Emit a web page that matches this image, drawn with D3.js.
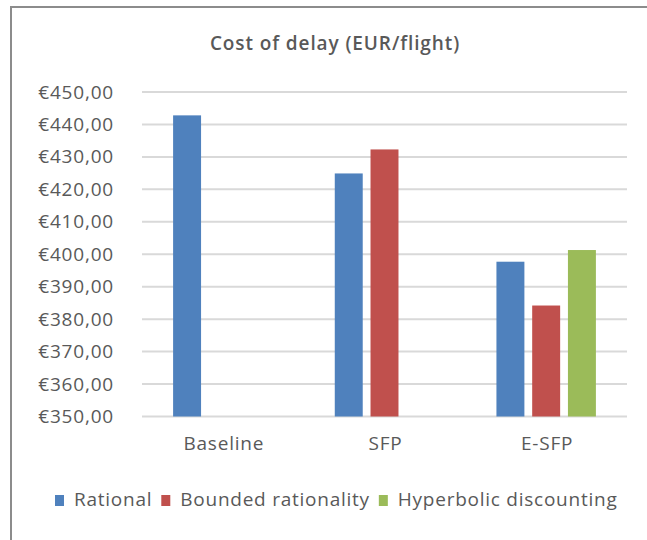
<!DOCTYPE html>
<html>
<head>
<meta charset="utf-8">
<script src="https://cdn.jsdelivr.net/npm/d3@7"></script>
<style>
  body { margin: 0; background: #fff; }
  svg { display: block; }
</style>
</head>
<body>
<div id="chart"></div>
<script>
var categories = ["Baseline", "SFP", "E-SFP"];
var seriesNames = ["Rational", "Bounded rationality", "Hyperbolic discounting"];
var seriesColors = ["#4F81BD", "#C0504D", "#9BBB59"];
// values per series, one entry per category (null = no bar)
var rational = [442.8, 424.9, 397.7];
var bounded = [null, 432.3, 384.2];
var hyperbolic = [null, null, 401.3];
var yTicks = [350, 360, 370, 380, 390, 400, 410, 420, 430, 440, 450];

var width = 647, height = 540;
var font = "'Open Sans', sans-serif";
var textColor = "#595959";

var svg = d3.select("#chart").append("svg")
    .attr("width", width)
    .attr("height", height);

// chart frame (cropped: only top and left edges visible)
svg.append("line")
    .attr("x1", 10).attr("y1", 7).attr("x2", width).attr("y2", 7)
    .attr("stroke", "#8c8c8c").attr("stroke-width", 2);
svg.append("line")
    .attr("x1", 11).attr("y1", 6).attr("x2", 11).attr("y2", height)
    .attr("stroke", "#8c8c8c").attr("stroke-width", 2);

var locale = d3.formatLocale({
    decimal: ",",
    thousands: ".",
    grouping: [3],
    currency: ["€", ""]
});
var fmt = locale.format("$.2f");

var plot = { left: 142, right: 627, top: 92, bottom: 416.5 };

var y = d3.scaleLinear()
    .domain([350, 450])
    .range([plot.bottom, plot.top]);

var x0 = d3.scaleBand()
    .domain(categories)
    .range([plot.left, plot.right]);

var x1 = d3.scaleBand()
    .domain(seriesNames)
    .range([0, x0.bandwidth()])
    .paddingInner(0.218)
    .paddingOuter(0.87);

// gridlines
svg.append("g")
    .selectAll("line")
    .data(yTicks)
    .enter()
    .append("line")
    .attr("x1", plot.left)
    .attr("x2", plot.right)
    .attr("y1", function(d) { return y(d); })
    .attr("y2", function(d) { return y(d); })
    .attr("stroke", "#d9d9d9")
    .attr("stroke-width", 2);

// y axis labels
var yAxis = d3.axisLeft(y)
    .tickValues(yTicks)
    .tickFormat(fmt)
    .tickSize(0)
    .tickPadding(0);

svg.append("g")
    .attr("transform", "translate(114,0)")
    .call(yAxis)
    .call(function(g) { g.select(".domain").remove(); })
    .selectAll("text")
    .attr("fill", textColor)
    .style("font", "19px " + font)
    .style("letter-spacing", "0.8px");

// bars
var table = [rational, bounded, hyperbolic];
var barData = [];
categories.forEach(function(c, i) {
    seriesNames.forEach(function(s, j) {
        if (table[j][i] != null) {
            barData.push({ cat: c, series: s, idx: j, value: table[j][i] });
        }
    });
});

svg.append("g")
    .selectAll("rect")
    .data(barData)
    .enter()
    .append("rect")
    .attr("x", function(d) { return x0(d.cat) + x1(d.series); })
    .attr("width", x1.bandwidth())
    .attr("y", function(d) { return y(d.value); })
    .attr("height", function(d) { return y(350) - y(d.value); })
    .attr("fill", function(d) { return seriesColors[d.idx]; });

// category labels
var xAxis = d3.axisBottom(x0).tickSize(0).tickPadding(0);
svg.append("g")
    .attr("transform", "translate(1," + (plot.bottom + 20) + ")")
    .call(xAxis)
    .call(function(g) { g.select(".domain").remove(); })
    .selectAll("text")
    .attr("fill", textColor)
    .style("font", "19px " + font)
    .style("letter-spacing", "0.8px");

// title
svg.append("text")
    .attr("x", 335)
    .attr("y", 50)
    .attr("text-anchor", "middle")
    .attr("fill", textColor)
    .style("font", "600 19px " + font)
    .style("letter-spacing", "0.9px")
    .text("Cost of delay (EUR/flight)");

// legend
var legend = svg.append("g").attr("transform", "translate(0,506)");
var lx = 55;
seriesNames.forEach(function(s, i) {
    legend.append("rect")
        .attr("x", lx)
        .attr("y", -11)
        .attr("width", 9)
        .attr("height", 11)
        .attr("fill", seriesColors[i]);
    var t = legend.append("text")
        .attr("x", lx + 19)
        .attr("y", 0)
        .attr("fill", textColor)
        .style("font", "19px " + font)
        .style("letter-spacing", "0.75px")
        .text(s);
    lx += 19 + t.node().getComputedTextLength() + 9;
});
</script>
</body>
</html>
